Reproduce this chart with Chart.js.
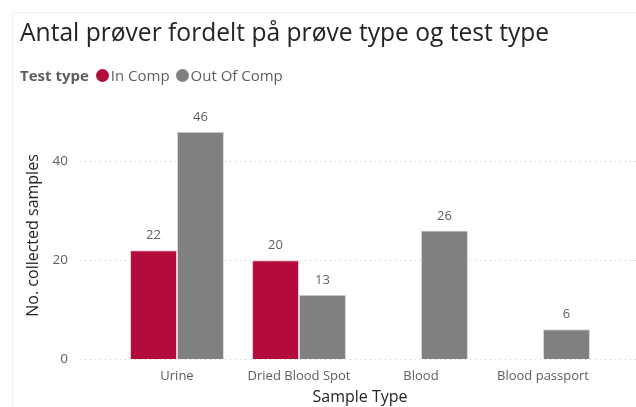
<!DOCTYPE html>
<html lang="da">
<head>
  <meta charset="UTF-8" />
  <title>Antal prøver fordelt på prøve type og test type</title>
  <script src="https://cdn.jsdelivr.net/npm/chart.js"></script>
  <style>
    html, body {
      margin: 0;
      padding: 0;
      background: #fff;
      font-family: 'Segoe UI', 'Open Sans', sans-serif;
    }
    #wrap {
      position: relative;
      width: 636px;
      height: 407px;
      overflow: hidden;
    }
    #frame {
      position: absolute;
      left: 12px;
      top: 12px;
      width: 700px;
      height: 500px;
      border-left: 1px solid #f2f2f2;
      border-top: 1px solid #f2f2f2;
    }
    #title {
      position: absolute;
      left: 20px;
      top: 15px;
      font-size: 24.6px;
      color: #252423;
      white-space: nowrap;
    }
    #legend {
      position: absolute;
      left: 20px;
      top: 65px;
      font-size: 15px;
      color: #605e5c;
      white-space: nowrap;
    }
    #legend b { font-weight: 700; margin-right: 7px; }
    .dot {
      display: inline-block;
      width: 13px;
      height: 13px;
      border-radius: 50%;
      vertical-align: -1px;
      margin-right: 2px;
    }
    #chart { position: absolute; left: 0; top: 0; }
  </style>
</head>
<body>
<div id="wrap">
  <div id="frame"></div>
  <canvas id="chart" width="636" height="407"></canvas>
  <div id="title">Antal prøver fordelt på prøve type og test type</div>
  <div id="legend">
    <b>Test type</b><span class="dot" style="background:#b30c3b"></span>In Comp
    <span class="dot" style="background:#808080; margin-left:2px"></span>Out Of Comp
  </div>
</div>

<script>
  // Data
  const sampleTypes = ['Urine', 'Dried Blood Spot', 'Blood', 'Blood passport'];
  const inComp = [22, 20, null, null];
  const outOfComp = [46, 13, 26, 6];
  const yTicks = [0, 20, 40];

  // Stiplede gitterlinjer ud over plotområdet
  const gridPlugin = {
    id: 'wideGrid',
    beforeDatasetsDraw(chart) {
      const ctx = chart.ctx;
      const y = chart.scales.y;
      ctx.save();
      ctx.strokeStyle = '#c8c8c8';
      ctx.lineWidth = 1;
      ctx.setLineDash([1, 4]);
      yTicks.forEach(v => {
        const py = Math.round(y.getPixelForValue(v)) + 0.5;
        ctx.beginPath();
        ctx.moveTo(80, py);
        ctx.lineTo(chart.width, py);
        ctx.stroke();
      });
      ctx.restore();
    }
  };

  // Dataetiketter over søjlerne
  const labelPlugin = {
    id: 'barLabels',
    afterDatasetsDraw(chart) {
      const ctx = chart.ctx;
      ctx.save();
      ctx.font = "13px 'Segoe UI', 'Open Sans', sans-serif";
      ctx.fillStyle = '#605e5c';
      ctx.textAlign = 'center';
      ctx.textBaseline = 'bottom';
      chart.data.datasets.forEach((ds, i) => {
        chart.getDatasetMeta(i).data.forEach((bar, j) => {
          if (ds.data[j] == null) return;
          ctx.fillText(ds.data[j], bar.x, bar.y - 8);
        });
      });
      ctx.restore();
    }
  };

  new Chart(document.getElementById('chart'), {
    type: 'bar',
    data: {
      labels: sampleTypes,
      datasets: [
        {
          label: 'In Comp',
          data: inComp,
          backgroundColor: '#b30c3b',
          borderColor: '#e8c5cf',
          borderWidth: 1,
          categoryPercentage: 0.77,
          barPercentage: 1
        },
        {
          label: 'Out Of Comp',
          data: outOfComp,
          backgroundColor: '#808080',
          borderColor: '#d6d6d6',
          borderWidth: 1,
          categoryPercentage: 0.77,
          barPercentage: 1
        }
      ]
    },
    options: {
      responsive: false,
      animation: false,
      layout: { padding: { top: 112, right: 32, left: 0, bottom: 0 } },
      plugins: {
        legend: { display: false },
        tooltip: { enabled: false }
      },
      scales: {
        x: {
          afterFit: scale => { scale.height = 48; },
          grid: { display: false },
          border: { display: false },
          ticks: {
            color: '#605e5c',
            font: { family: "'Segoe UI', 'Open Sans', sans-serif", size: 13 },
            padding: 2,
            maxRotation: 0
          },
          title: {
            display: true,
            text: 'Sample Type',
            color: '#252423',
            font: { family: "'Segoe UI', 'Open Sans', sans-serif", size: 16 },
            padding: { top: 0, bottom: 0 }
          }
        },
        y: {
          min: 0,
          max: 50,
          afterBuildTicks: scale => { scale.ticks = yTicks.map(v => ({ value: v })); },
          afterFit: scale => { scale.width = 116; },
          grid: { display: false },
          border: { display: false },
          ticks: {
            color: '#605e5c',
            font: { family: "'Segoe UI', 'Open Sans', sans-serif", size: 13.5 },
            padding: 40
          },
          title: {
            display: true,
            text: 'No. collected samples',
            color: '#252423',
            font: { family: "'Segoe UI', 'Open Sans', sans-serif", size: 16 },
            padding: { top: 24, bottom: 0 }
          }
        }
      }
    },
    plugins: [gridPlugin, labelPlugin]
  });
</script>
</body>
</html>
